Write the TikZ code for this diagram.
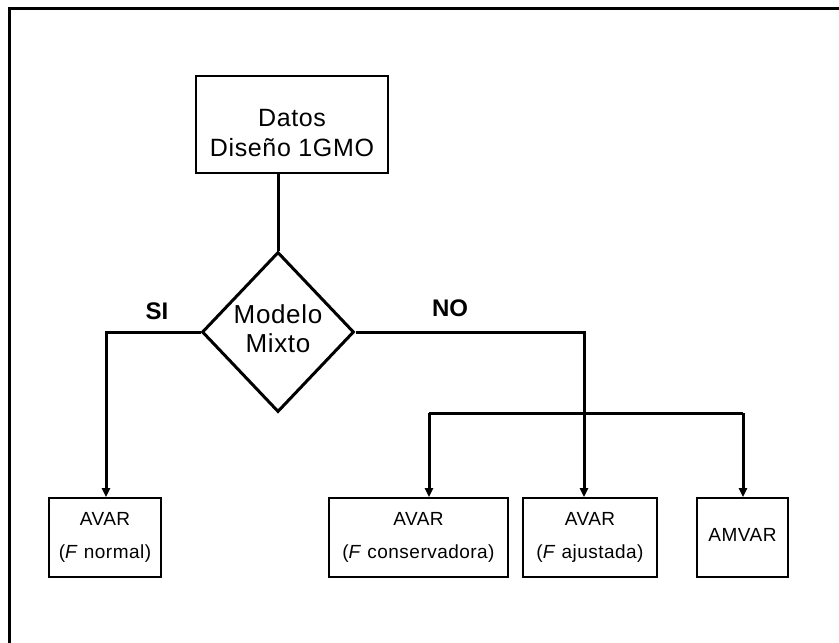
\documentclass[tikz,border=0pt]{standalone}
\usepackage{fontspec}
\setmainfont{Liberation Sans}[LetterSpace=2.5]
\usetikzlibrary{shapes.geometric,arrows.meta}

\tikzset{
  conn/.style={line width=3pt},
  arr/.style={conn,-{Triangle[length=9pt,width=8pt]}},
  boxnode/.style={draw,line width=1.6pt,rectangle,inner sep=0pt,align=center},
  boxtext/.style={font=\fontsize{19}{33}\selectfont},
  lbl/.style={font=\fontsize{24}{28}\selectfont\bfseries\addfontfeature{LetterSpace=0}}
}

\begin{document}
\begin{tikzpicture}[x=1pt,y=-1pt]
  \useasboundingbox (0,0) rectangle (839,643);
  % frame edges
  \draw[line width=3.5pt] (9.5,643) -- (9.5,8.5) -- (839,8.5);

  % data box and its two-line caption
  \node[boxnode,minimum width=192pt,minimum height=97pt] (datos) at (292,124.5) {};
  \node[align=center,inner sep=0pt,font=\fontsize{25}{30}\selectfont]
        (datostxt) at (292,133) {Datos\\Diseño 1GMO};

  % decision and its caption
  \node[draw,diamond,line width=3pt,inner sep=0pt,
        minimum width=152pt,minimum height=160pt] (dm) at (278,332) {};
  \node[align=center,inner sep=0pt,font=\fontsize{26}{29}\selectfont]
        (dmtxt) at (278,329) {Modelo\\Mixto};

  % results
  \node[boxnode,boxtext,minimum width=112pt,minimum height=79pt] (normal) at (105,537.5)
        {AVAR\\(\textit{F} normal)};
  \node[boxnode,boxtext,minimum width=179pt,minimum height=79pt] (cons) at (418.5,537.5)
        {AVAR\\(\textit{F} conservadora)};
  \node[boxnode,boxtext,minimum width=134pt,minimum height=79pt] (ajus) at (590,537.5)
        {AVAR\\(\textit{F} ajustada)};
  \node[boxnode,boxtext,minimum width=91pt,minimum height=79pt] (amvar) at (742.5,537.5)
        {\raisebox{5pt}{AMVAR}};

  % branch labels
  \node[lbl] (si) at (157,311) {SI};
  \node[lbl] (no) at (450,308) {NO};

  % connector points
  \coordinate (ajIn) at ([xshift=-6pt]ajus.north);
  \coordinate (barL) at (429,413);
  \coordinate (barR) at (743,413);

  % connectors
  \draw[conn] (dm.north |- datos.south) -- (dm.north);
  \draw[arr] (dm.west) -| ([xshift=1pt]normal.north);
  \draw[arr] (dm.east) -| (ajIn);
  \draw[conn] (barL) -- (barR);
  \draw[arr] (barL) -- (barL |- cons.north);
  \draw[arr] (barR) -- (barR |- amvar.north);
\end{tikzpicture}
\end{document}
